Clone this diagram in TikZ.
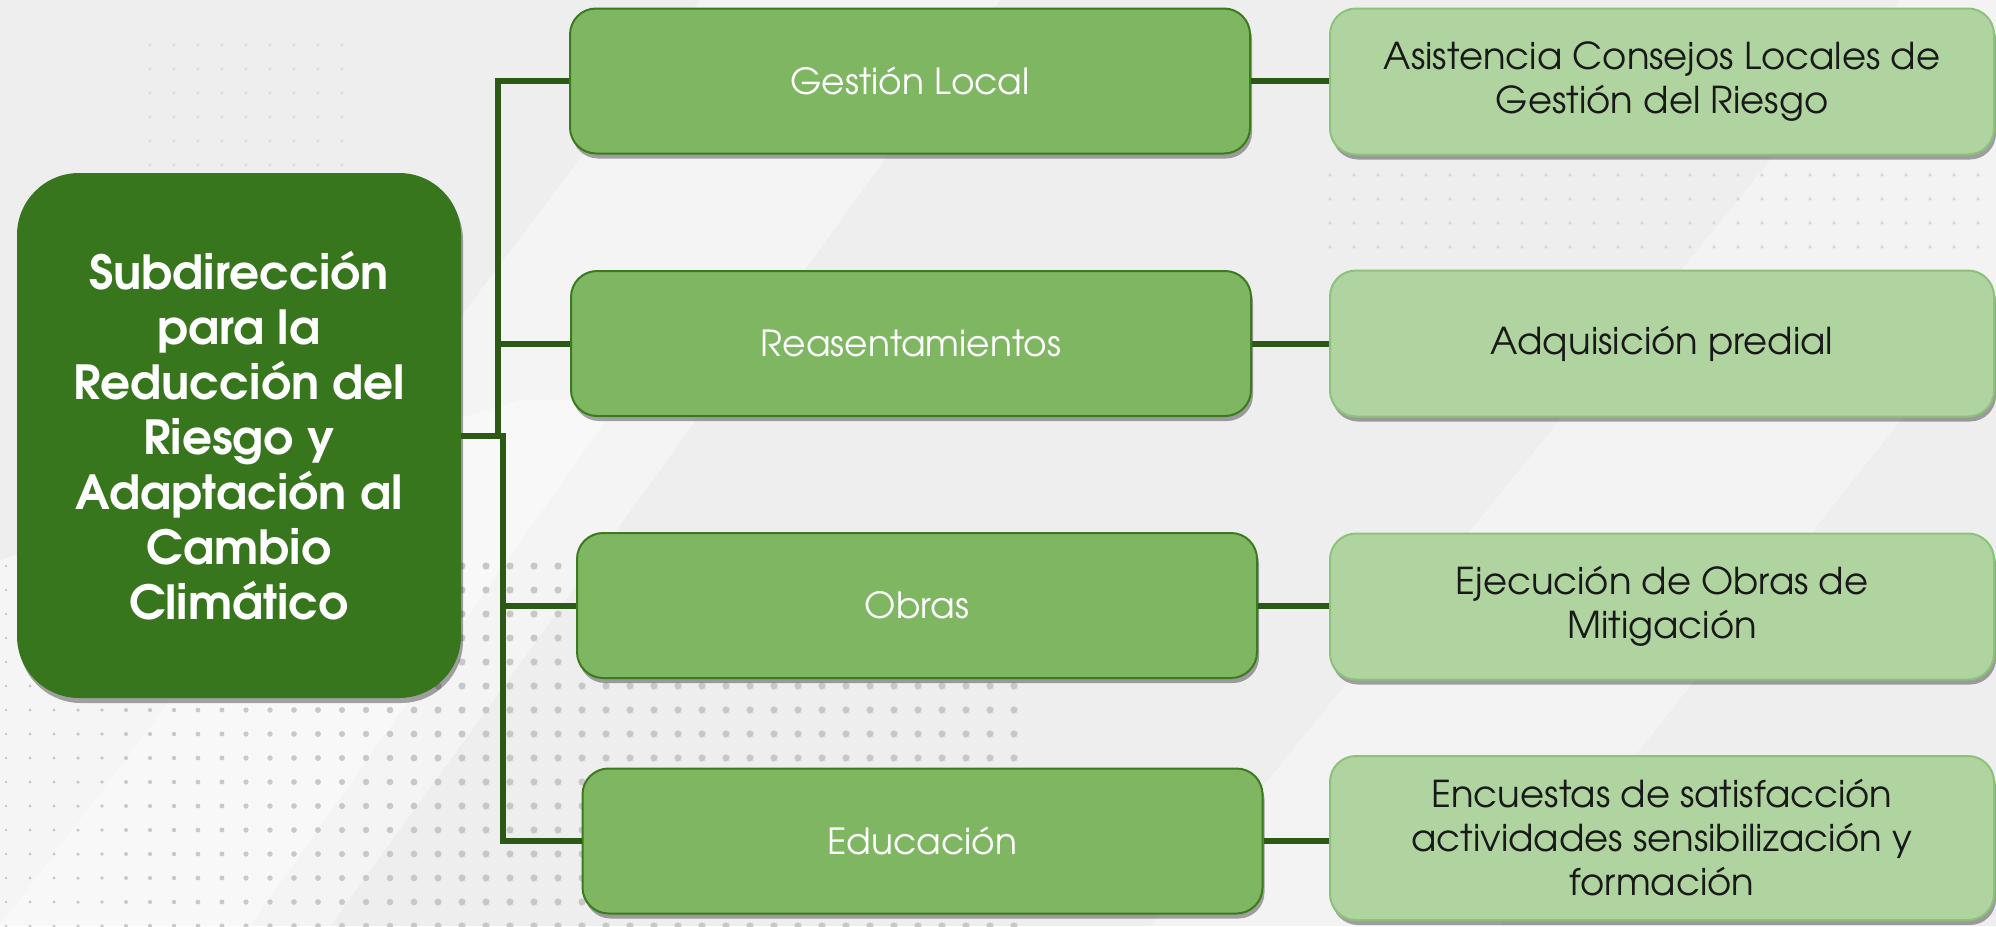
\documentclass[tikz,border=0pt]{standalone}
\usepackage{fontspec}
\setmainfont{TeX Gyre Adventor}
\usetikzlibrary{shadows,calc}
\definecolor{bgc}{HTML}{EEEEEE}
\definecolor{rootc}{HTML}{38761D}
\definecolor{midc}{HTML}{7FB662}
\definecolor{midb}{HTML}{3B7A1F}
\definecolor{lightc}{HTML}{B0D4A0}
\definecolor{lightb}{HTML}{8CC27A}
\definecolor{connc}{HTML}{2C5A16}
\definecolor{dotc}{HTML}{C8C8C8}
\tikzset{
  boxshadow/.style={drop shadow={shadow xshift=2pt,shadow yshift=-5pt,opacity=0.35,fill=black}},
  rootbox/.style={fill=rootc,draw=none,rounded corners=62pt,minimum width=444pt,minimum height=525pt,
    inner sep=0pt,align=center,text=white,font=\fontsize{47}{55}\selectfont\bfseries,boxshadow},
  midbox/.style={fill=midc,draw=midb,line width=2pt,rounded corners=26pt,minimum width=680pt,minimum height=145pt,
    inner sep=0pt,align=center,text=white,font=\fontsize{36}{44}\selectfont,boxshadow},
  lightbox/.style={fill=lightc,draw=lightb,line width=2pt,rounded corners=26pt,minimum width=664pt,minimum height=146pt,
    inner sep=0pt,align=center,text=black!90,font=\fontsize{37}{44}\selectfont,boxshadow},
  conn/.style={draw=connc,line width=6pt}
}
\begin{document}
\begin{tikzpicture}[x=1pt,y=-1pt]
\useasboundingbox (0,0) rectangle (1996,926);
% background
\fill[bgc] (0,0) rectangle (1996,926);
\fill[white,opacity=0.4] (0,926) -- (330,926) -- (1000,0) -- (700,0) -- cycle;
\fill[white,opacity=0.3] (1150,926) -- (1500,926) -- (1996,300) -- (1996,0) -- (1900,0) -- cycle;
\fill[white,opacity=0.45] (0,560) -- (0,926) -- (250,926) -- (620,400) -- (520,400) -- cycle;
% dot grid
\foreach \i in {0,...,42}{
  \foreach \j in {0,...,15}{
    \pgfmathsetmacro{\rr}{min(3.6,1.4+\i*0.12)}
    \fill[dotc] (\i*24+6, 566+\j*24) circle (\rr);
  }
}
\foreach \i in {6,...,14}{
  \foreach \j in {0,...,5}{
    \fill[dotc,opacity=0.5] (\i*24+6, 45+\j*24) circle (1.6);
  }
}
\foreach \i in {0,...,27}{
  \foreach \j in {0,...,3}{
    \fill[dotc,opacity=0.6] (1330+\i*24, 175+\j*24) circle (1.8);
  }
}
% nodes
\node[rootbox] (root) at (239,435.5) {Subdirección\\para la\\Reducción del\\Riesgo y\\Adaptación al\\Cambio\\Climático};
\node[midbox] (gl) at (910,81) {Gestión Local};
\node[midbox] (re) at (911,343.5) {Reasentamientos};
\node[midbox] (ob) at (917,605.5) {Obras};
\node[midbox] (ed) at (922.5,841) {Educación};
\node[lightbox] (as) at (1662,81.5) {Asistencia Consejos Locales de\\Gestión del Riesgo};
\node[lightbox] (ad) at (1662,343.5) {Adquisición predial};
\node[lightbox] (ej) at (1662,606.5) {Ejecución de Obras de\\Mitigación};
\node[lightbox,minimum height=164pt] (en) at (1662,838) {Encuestas de satisfacción\\actividades sensibilización y\\formación};
% junction coordinates
\coordinate (ja) at (498,0);
\coordinate (jb) at (503,0);
% connectors
\draw[conn] (gl.west) -| (ja |- root.east) -- (root.east);
\draw[conn] (re.west) -- (re.west -| ja);
\draw[conn] (root.east) -| (jb |- ed.west) -- (ed.west);
\draw[conn] (ob.west) -- (ob.west -| jb);
\draw[conn] (gl.east) -- (gl.east -| as.west);
\draw[conn] (re.east) -- (re.east -| ad.west);
\draw[conn] (ob.east) -- (ob.east -| ej.west);
\draw[conn] (ed.east) -- (ed.east -| en.west);
\end{tikzpicture}
\end{document}
